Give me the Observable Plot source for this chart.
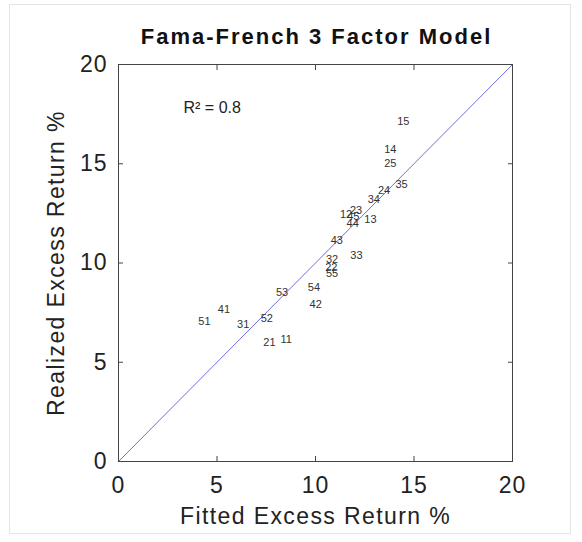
<!DOCTYPE html>
<html>
<head>
<meta charset="utf-8">
<script src="https://cdn.jsdelivr.net/npm/d3@7"></script>
<script src="https://cdn.jsdelivr.net/npm/@observablehq/plot@0.6"></script>
<style>
  html, body { margin: 0; padding: 0; background: #fff; }
  #wrap { position: relative; width: 582px; height: 542px; }
  #border { position: absolute; left: 9px; top: 4px; width: 562px; height: 530px; border: 1px solid #e4e4e4; box-sizing: border-box; }
  #chart { position: absolute; left: 0; top: 0; }
  g[aria-label="x-axis tick label"] text, g[aria-label="y-axis tick label"] text { letter-spacing: 1px; }
</style>
</head>
<body>
<div id="wrap"><div id="border"></div><div id="chart"></div></div>
<script>
const portfolios = ["11","12","13","14","15","21","22","23","24","25","31","32","33","34","35","41","42","43","44","45","51","52","53","54","55"];
const fitted   = [8.51, 11.55, 12.79, 13.80, 14.46, 7.66, 10.80, 12.06, 13.48, 13.80, 6.33, 10.84, 12.08, 12.96, 14.37, 5.35, 10.01, 11.08, 11.89, 11.92, 4.36, 7.53, 8.30, 9.92, 10.84];
const realized = [6.15, 12.46, 12.21, 15.70, 17.14, 5.98, 9.77, 12.67, 13.64, 15.03, 6.92, 10.19, 10.40, 13.21, 13.94, 7.67, 7.89, 11.15, 11.99, 12.35, 7.06, 7.20, 8.54, 8.76, 9.46];
const axisTicks = [0, 5, 10, 15, 20];
const diagonal = [0, 20];
const title = "Fama-French 3 Factor Model";
const xLabel = "Fitted Excess Return %";
const yLabel = "Realized Excess Return %";
const r2Text = [{x: 3.3, y: 17.8, t: "R\u00B2 = 0.8"}];

const data = portfolios.map((p, i) => ({p, x: fitted[i], y: realized[i]}));

const chart = Plot.plot({
  width: 582, height: 542,
  marginLeft: 118, marginRight: 70, marginTop: 64, marginBottom: 81,
  x: {domain: [0, 20]},
  y: {domain: [0, 20]},
  style: {fontFamily: "'Liberation Sans', Arial, sans-serif", background: "transparent", color: "#222"},
  marks: [
    Plot.line(diagonal, {x: d => d, y: d => d, stroke: "#6e6edc", strokeWidth: 1}),
    Plot.axisX(axisTicks, {anchor: "bottom", tickSize: -5, tickPadding: 20, fontSize: 23, label: null, stroke: "#444"}),
    Plot.axisX(axisTicks, {anchor: "top", tickSize: -5, tickFormat: () => "", label: null, stroke: "#444"}),
    Plot.axisY(axisTicks, {anchor: "left", tickSize: -5, tickPadding: 16, fontSize: 23, label: null, stroke: "#444"}),
    Plot.axisY(axisTicks, {anchor: "right", tickSize: -5, tickFormat: () => "", label: null, stroke: "#444"}),
    Plot.frame({stroke: "#444"}),
    Plot.text(data, {x: "x", y: "y", text: "p", fontSize: 11, fill: "#333"}),
    Plot.text(r2Text, {x: "x", y: "y", text: "t", textAnchor: "start", fontSize: 16, fill: "#222"}),
    Plot.text([title], {frameAnchor: "top", lineAnchor: "middle", dy: -28, dx: 1, fontSize: 22, fontWeight: "bold", fill: "#111"}),
    Plot.text([xLabel], {frameAnchor: "bottom", lineAnchor: "middle", dy: 55, fontSize: 23, fill: "#222"}),
    Plot.text([yLabel], {frameAnchor: "left", textAnchor: "middle", lineAnchor: "middle", dx: -62, rotate: -90, fontSize: 23, fill: "#222"})
  ]
});
const sel = d3.select(chart).selectAll("text");
sel.filter(function() { return this.textContent === title; }).style("letter-spacing", "2px");
sel.filter(function() { return this.textContent === xLabel || this.textContent === yLabel; }).style("letter-spacing", "1.4px");
document.getElementById("chart").appendChild(chart);
</script>
</body>
</html>
